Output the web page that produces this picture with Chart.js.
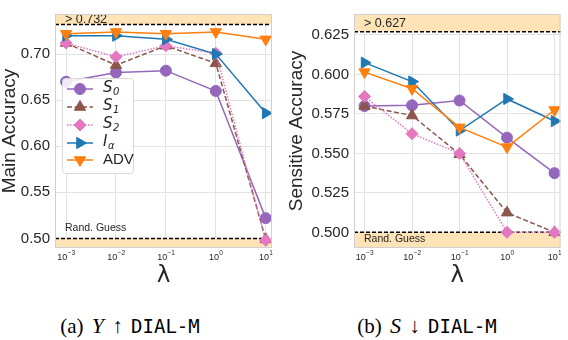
<!DOCTYPE html>
<html>
<head>
<meta charset="utf-8">
<script src="https://cdn.jsdelivr.net/npm/chart.js@4.4.0/dist/chart.umd.min.js"></script>
<style>
  body { margin: 0; width: 568px; height: 340px; background: #fff; position: relative; overflow: hidden; }
  canvas { position: absolute; top: 0; }
  #chart-a { left: 0; }
  #chart-b { left: 284px; }
  .cap { position: absolute; top: 315px; width: 260px; text-align: center; font-family: 'Liberation Serif', serif; font-size: 21px; line-height: 22px; word-spacing: 3px; color: #000; white-space: nowrap; }
  .cap i { font-size: 22px; }
  .cap .tt { font-family: 'DejaVu Sans Mono', monospace; font-size: 19px; }
</style>
</head>
<body>
<canvas id="chart-a" width="284" height="290"></canvas>
<canvas id="chart-b" width="284" height="290"></canvas>
<div class="cap" style="left:0">(a) <i>Y</i> ↑ <span class="tt">DIAL-M</span></div>
<div class="cap" style="left:297px">(b) <i>S</i> ↓ <span class="tt">DIAL-M</span></div>
<script>
// lambda values (log x axis)
var lambdas = [0.001, 0.01, 0.1, 1, 10];
var xTickExp = [-3, -2, -1, 0, 1];

// legend labels: [main, subscript]
var seriesNames = [["S", "0"], ["S", "1"], ["S", "2"], ["I", "α"], ["ADV", ""]];

// (a) main accuracy
var mainS0 = [0.670, 0.680, 0.682, 0.660, 0.522];
var mainS1 = [0.712, 0.688, 0.709, 0.690, 0.499];
var mainS2 = [0.712, 0.697, 0.709, 0.701, 0.498];
var mainIa = [0.720, 0.720, 0.716, 0.700, 0.636];
var mainAdv = [0.722, 0.724, 0.722, 0.724, 0.716];
var mainTicks = [0.50, 0.55, 0.60, 0.65, 0.70];

// (b) sensitive accuracy
var sensS0 = [0.580, 0.5805, 0.5835, 0.560, 0.5375];
var sensS1 = [0.580, 0.574, 0.5495, 0.5125, 0.500];
var sensS2 = [0.586, 0.5625, 0.550, 0.500, 0.500];
var sensIa = [0.6075, 0.5955, 0.5645, 0.5845, 0.5705];
var sensAdv = [0.6015, 0.591, 0.5665, 0.554, 0.5775];
var sensTicks = [0.500, 0.525, 0.550, 0.575, 0.600, 0.625];

var colors = ["#9467bd", "#8c564b", "#e377c2", "#1f77b4", "#ff7f0e"];
var markers = ["circle", "triangle", "rectRot", "triangle", "triangle"];
var rotations = [0, 0, 0, 90, 180];
var radii = [5.5, 6.5, 6, 6.5, 6.5];
var dashes = [[], [5, 2.5], [1.5, 1.5], [], []];

var bandColor = "#fde3b6";
var textColor = "#262626";
var gridColor = "#e3e3e3";

Chart.defaults.font.family = "'Liberation Sans', Arial, sans-serif";
Chart.defaults.color = textColor;

function makeDatasets(lists) {
  return lists.map(function (vals, i) {
    return {
      label: seriesNames[i].join(""),
      data: vals.map(function (v, j) { return { x: lambdas[j], y: v }; }),
      borderColor: colors[i],
      backgroundColor: colors[i],
      pointBorderColor: colors[i],
      borderWidth: 1.5,
      borderDash: dashes[i],
      pointStyle: markers[i],
      pointRotation: rotations[i],
      pointRadius: radii[i],
      pointBorderWidth: 1,
      tension: 0,
      order: 4 - i,
    };
  });
}

function drawLegend(ctx) {
  var bx = 62, by = 78, bw = 71, bh = 95;
  ctx.save();
  ctx.fillStyle = "rgba(255,255,255,0.85)";
  ctx.strokeStyle = "#d9d9d9";
  ctx.lineWidth = 1;
  ctx.beginPath();
  ctx.roundRect(bx + 0.5, by + 0.5, bw, bh, 3);
  ctx.fill();
  ctx.stroke();
  var ys = [89, 107, 125, 143, 160];
  for (var i = 0; i < seriesNames.length; i++) {
    var y = ys[i];
    ctx.strokeStyle = colors[i];
    ctx.fillStyle = colors[i];
    ctx.lineWidth = 1.5;
    ctx.setLineDash(dashes[i]);
    ctx.beginPath();
    ctx.moveTo(67, y);
    ctx.lineTo(93, y);
    ctx.stroke();
    ctx.setLineDash([]);
    ctx.lineWidth = 1;
    Chart.helpers.drawPoint(ctx, { pointStyle: markers[i], rotation: rotations[i], radius: radii[i], borderWidth: 1 }, 80, y);
    ctx.fillStyle = textColor;
    ctx.textBaseline = "middle";
    ctx.textAlign = "left";
    var name = seriesNames[i];
    if (name[1] === "") {
      ctx.font = "15px 'Liberation Sans'";
      ctx.fillText(name[0], 103, y);
    } else {
      ctx.font = "italic 15px 'DejaVu Sans'";
      ctx.fillText(name[0], 103, y - 1);
      var w = ctx.measureText(name[0]).width;
      ctx.font = "italic 10px 'DejaVu Sans'";
      ctx.fillText(name[1], 103 + w + 0.5, y + 3);
    }
  }
  ctx.restore();
}

function refPlugin(cfg) {
  return {
    id: "ref-" + cfg.name,
    beforeDatasetsDraw: function (chart) {
      var ctx = chart.ctx, a = chart.chartArea, y = chart.scales.y;
      var yTop = y.getPixelForValue(cfg.upper);
      var yBot = y.getPixelForValue(0.5);
      ctx.save();
      ctx.fillStyle = bandColor;
      ctx.fillRect(a.left, a.top, a.right - a.left, yTop - a.top);
      ctx.fillRect(a.left, yBot, a.right - a.left, a.bottom - yBot);
      ctx.strokeStyle = "#000";
      ctx.lineWidth = 1.5;
      ctx.setLineDash([4, 2]);
      ctx.beginPath();
      ctx.moveTo(a.left, yTop); ctx.lineTo(a.right, yTop);
      ctx.moveTo(a.left, yBot); ctx.lineTo(a.right, yBot);
      ctx.stroke();
      ctx.setLineDash([]);
      ctx.fillStyle = textColor;
      ctx.textAlign = "left";
      ctx.textBaseline = "middle";
      ctx.font = "12.5px 'Liberation Sans'";
      ctx.fillText("> " + cfg.upper.toFixed(3), a.left + 10, (a.top + yTop) / 2 + 0.5);
      ctx.font = "10.5px 'Liberation Sans'";
      ctx.fillText("Rand. Guess", a.left + 10, cfg.randAbove ? yBot - 10 : yBot + 7);
      ctx.restore();
    },
    afterDraw: function (chart) {
      var ctx = chart.ctx, a = chart.chartArea, x = chart.scales.x;
      ctx.save();
      // frame
      ctx.strokeStyle = "#d0d0d0";
      ctx.lineWidth = 1;
      ctx.strokeRect(a.left + 0.5, a.top + 0.5, a.right - a.left - 1, a.bottom - a.top - 1);
      // x tick labels 10^k
      ctx.fillStyle = textColor;
      ctx.textBaseline = "middle";
      ctx.textAlign = "left";
      for (var i = 0; i < lambdas.length; i++) {
        var px = x.getPixelForValue(lambdas[i]);
        var sup = String(xTickExp[i]).replace("-", "−");
        ctx.font = "9px 'Liberation Sans'";
        var w1 = ctx.measureText("10").width;
        ctx.font = "6.5px 'Liberation Sans'";
        var w2 = ctx.measureText(sup).width;
        var x0 = px - (w1 + w2) / 2;
        ctx.font = "9px 'Liberation Sans'";
        ctx.fillText("10", x0, a.bottom + 10);
        ctx.font = "6.5px 'Liberation Sans'";
        ctx.fillText(sup, x0 + w1 + 0.3, a.bottom + 5);
      }
      // x axis title
      ctx.textAlign = "center";
      ctx.font = "23px 'DejaVu Sans'";
      ctx.fillText("λ", (a.left + a.right) / 2, a.bottom + 28);
      if (cfg.legend) drawLegend(ctx);
      ctx.restore();
    },
  };
}

function makeChart(id, lists, yTicks, decimals, yMin, yMax, title, yWidth, padRight, titlePad, cfg) {
  return new Chart(document.getElementById(id), {
    type: "line",
    data: { datasets: makeDatasets(lists) },
    options: {
      responsive: false,
      animation: false,
      layout: { padding: { left: 0, right: padRight, top: 3, bottom: 0 } },
      plugins: { legend: { display: false }, tooltip: { enabled: false } },
      scales: {
        x: {
          type: "logarithmic",
          min: Math.pow(10, -3.214),
          max: Math.pow(10, 1.126),
          afterBuildTicks: function (s) { s.ticks = lambdas.map(function (v) { return { value: v, major: true }; }); },
          afterFit: function (s) { s.height = 42; },
          ticks: { display: false },
          grid: { color: gridColor, drawTicks: false },
          border: { display: false },
        },
        y: {
          min: yMin,
          max: yMax,
          afterBuildTicks: function (s) { s.ticks = yTicks.map(function (v) { return { value: v }; }); },
          afterFit: function (s) { s.width = yWidth; },
          ticks: {
            font: { size: 15 },
            color: textColor,
            padding: 5,
            callback: function (v) { return Number(v).toFixed(decimals); },
          },
          grid: { color: gridColor, drawTicks: false },
          border: { display: false },
          title: {
            display: true,
            text: title,
            color: textColor,
            font: { size: 19, lineHeight: 1 },
            padding: { top: titlePad, bottom: 0 },
          },
        },
      },
    },
    plugins: [refPlugin(cfg)],
  });
}

makeChart("chart-a", [mainS0, mainS1, mainS2, mainIa, mainAdv], mainTicks, 2,
  0.4896, 0.7435, "Main Accuracy", 55, 12, 0,
  { name: "a", upper: 0.732, randAbove: true, legend: true });

makeChart("chart-b", [sensS0, sensS1, sensS2, sensIa, sensAdv], sensTicks, 3,
  0.4901, 0.6383, "Sensitive Accuracy", 70, 1, 3.5,
  { name: "b", upper: 0.627, randAbove: false, legend: false });
</script>
</body>
</html>
